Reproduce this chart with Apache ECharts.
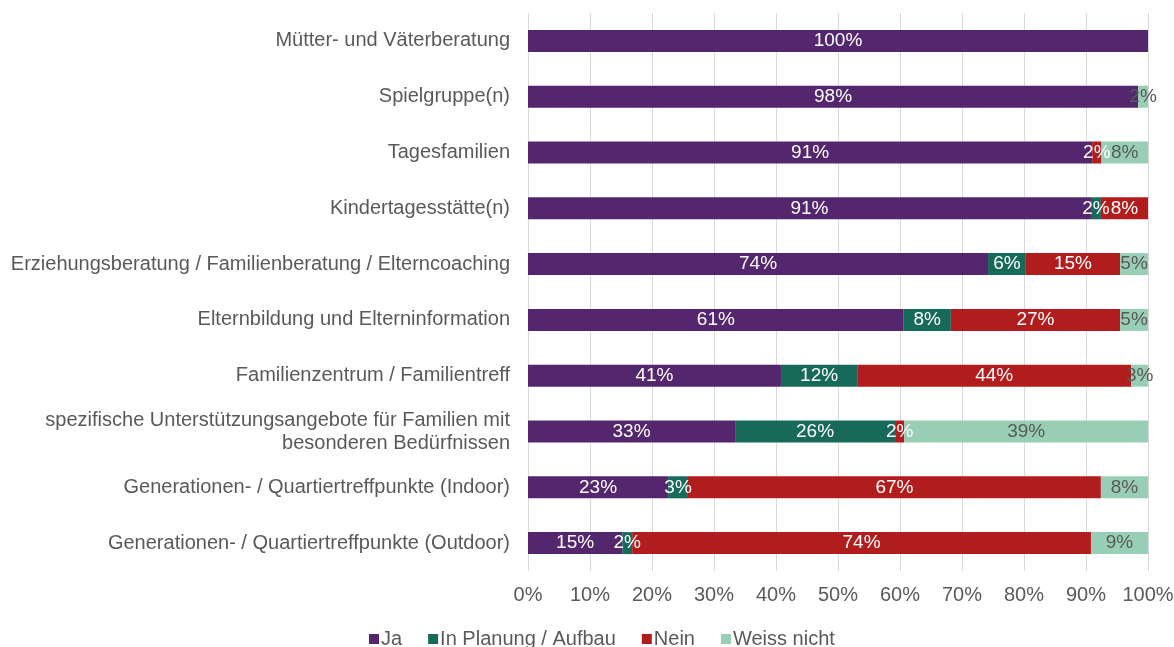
<!DOCTYPE html>
<html>
<head>
<meta charset="utf-8">
<script src="https://cdn.jsdelivr.net/npm/echarts@6/dist/echarts.min.js"></script>
<style>html,body{margin:0;padding:0;background:#fff}#c{width:1174px;height:647px}</style>
</head>
<body>
<div id="c"></div>
<script>
const categories = [
  "Mütter- und Väterberatung",
  "Spielgruppe(n)",
  "Tagesfamilien",
  "Kindertagesstätte(n)",
  "Erziehungsberatung / Familienberatung / Elterncoaching",
  "Elternbildung und Elterninformation",
  "Familienzentrum / Familientreff",
  "spezifische Unterstützungsangebote für Familien mit\nbesonderen Bedürfnissen",
  "Generationen- / Quartiertreffpunkte (Indoor)",
  "Generationen- / Quartiertreffpunkte (Outdoor)"
];
const seriesNames = ["Ja", "In Planung / Aufbau", "Nein", "Weiss nicht"];
const ja       = [100, 98.4, 91.0, 90.8, 74.2, 60.6, 40.8, 33.4, 22.6, 15.2];
const planung  = [0,   0,    0,    1.6,  6.1,  7.6,  12.3, 25.8, 3.2,  1.6];
const nein     = [0,   0,    1.5,  7.6,  15.2, 27.3, 44.2, 1.5,  66.6, 74.0];
const weiss    = [0,   1.6,  7.5,  0,    4.5,  4.5,  2.7,  39.3, 7.6,  9.2];
const xTicks = [0, 10, 20, 30, 40, 50, 60, 70, 80, 90, 100];

const colors = ["#54266E", "#17695A", "#B11D1D", "#98CEB5"];
const labelColors = ["#ffffff", "#ffffff", "#ffffff", "#595959"];
const dataSets = [ja, planung, nein, weiss];
const font = "Liberation Sans, Arial, sans-serif";

const chart = echarts.init(document.getElementById('c'));
chart.setOption({
  animation: false,
  textStyle: { fontFamily: font },
  color: colors,
  grid: { left: 528, right: 26, top: 13, bottom: 76, containLabel: false, outerBoundsMode: 'none' },
  legend: {
    data: seriesNames,
    top: 629,
    left: 369,
    itemWidth: 10,
    itemHeight: 10,
    itemGap: 26,
    icon: 'rect',
    padding: 0,
    textStyle: { fontFamily: font, fontSize: 20, color: '#595959', padding: [0, 0, 0, -3] }
  },
  xAxis: {
    type: 'value',
    min: xTicks[0],
    max: xTicks[xTicks.length - 1],
    interval: 10,
    axisLine: { show: false },
    axisTick: { show: false },
    splitLine: { show: true, lineStyle: { color: '#D9D9D9', width: 1 } },
    axisLabel: { formatter: v => v + '%', fontSize: 20, color: '#595959', margin: 14, fontFamily: font }
  },
  yAxis: {
    type: 'category',
    data: categories,
    inverse: true,
    axisLine: { show: false },
    axisTick: { show: false },
    axisLabel: { fontSize: 20, color: '#595959', margin: 18, fontFamily: font, lineHeight: 23, align: 'right' }
  },
  series: seriesNames.map((name, i) => ({
    name,
    type: 'bar',
    stack: 'total',
    barWidth: 22,
    data: dataSets[i].map(v => v === 0 ? null : v),
    itemStyle: { color: colors[i] },
    label: {
      show: true,
      position: 'inside',
      color: labelColors[i],
      fontSize: 19,
      fontFamily: font,
      textBorderWidth: 0,
      formatter: p => Math.round(p.value) + '%'
    }
  }))
});
</script>
</body>
</html>
